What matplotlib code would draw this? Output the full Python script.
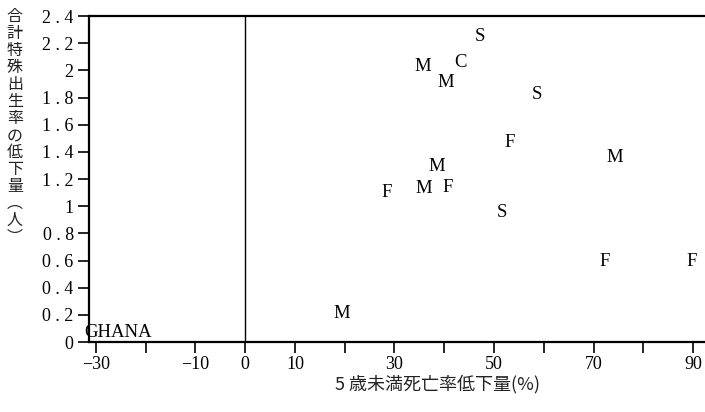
import matplotlib
matplotlib.use('Agg')
from matplotlib import pyplot as plt

# データ
labels = ['GHANA', 'M', 'F', 'M', 'F', 'M', 'S', 'F', 'S', 'M', 'C', 'M', 'S', 'M', 'F', 'F']
x_vals = [-25.6, 19.5, 28.4, 35.8, 40.6, 38.4, 51.5, 53.1, 58.6, 35.6, 43.3, 40.4, 47.1, 74.2, 72.2, 89.7]
y_vals = [0.07, 0.21, 1.10, 1.13, 1.14, 1.29, 0.95, 1.47, 1.82, 2.03, 2.06, 1.91, 2.25, 1.36, 0.59, 0.59]

x_ticks = list(range(-30, 100, 10))
x_ticklabels = ['−30', '', '−10', '0', '10', '', '30', '', '50', '', '70', '', '90']
y_ticks = [0, 0.2, 0.4, 0.6, 0.8, 1, 1.2, 1.4, 1.6, 1.8, 2, 2.2, 2.4]
y_ticklabels = ['0', '0 . 2', '0 . 4', '0 . 6', '0 . 8', '1', '1 . 2', '1 . 4', '1 . 6', '1 . 8', '2', '2 . 2', '2 . 4']

ylabel = '合計特殊出生率の低下量︵人︶'
xlabel = '5 歳未満死亡率低下量(%)'

serif = ['Liberation Serif', 'DejaVu Serif']
jp = ['Noto Sans CJK JP', 'DejaVu Sans']

fig = plt.figure(figsize=(7.05, 4.12), dpi=100)
ax = fig.add_axes([0.1262, 0.1699, 0.8738, 0.7912])

for lab, xv, yv in zip(labels, x_vals, y_vals):
    ax.text(xv, yv, lab, ha='center', va='center', fontsize=13.5,
            family=serif, clip_on=False)

ax.axvline(0, color='black', lw=1.0)

ax.set_xlim(-31.4, 92.4)
ax.set_ylim(0, 2.4)
ax.set_xticks(x_ticks)
ax.set_xticklabels(x_ticklabels, family=serif, fontsize=13)
ax.set_yticks(y_ticks)
ax.set_yticklabels(y_ticklabels, family=serif, fontsize=13)
ax.tick_params(direction='out', length=8, width=1.2, pad=3)
ax.tick_params(axis='x', pad=2)

for s in ['left', 'bottom', 'top']:
    ax.spines[s].set_linewidth(1.6)
ax.spines['right'].set_visible(False)

# 縦書きの軸ラベル
fig.text(0.021, 0.98, '\n'.join(ylabel), ha='center', va='top',
         family=jp, fontsize=11.5, linespacing=1.0, color='#222222')
fig.text(0.62, 0.068, xlabel, ha='center', va='center',
         family=jp, fontsize=13, color='#222222')

plt.savefig('out.png', dpi=100)
